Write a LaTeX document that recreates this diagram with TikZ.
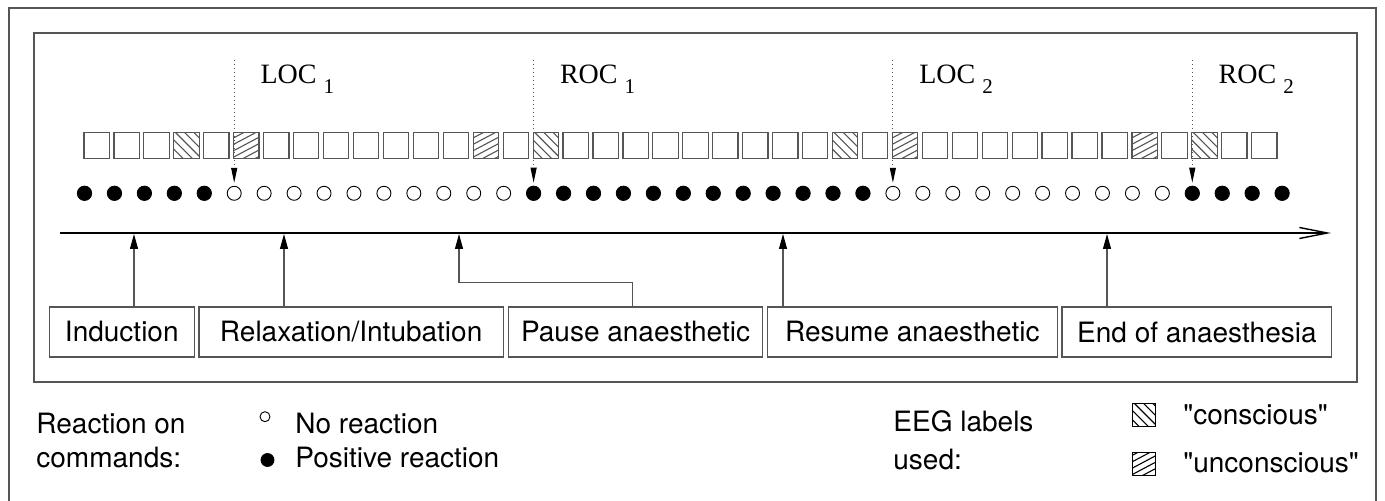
\documentclass[tikz,border=0pt]{standalone}
\usepackage{fontspec}
\setmainfont{Liberation Serif}
\setsansfont{TeX Gyre Heros}
\usetikzlibrary{arrows.meta}
\definecolor{edge}{HTML}{555555}

\begin{document}
\begin{tikzpicture}[x=0.5pt,y=-0.5pt,
  frame/.style={draw=edge, line width=0.6pt},
  slot/.style={draw=edge, line width=0.6pt, minimum width=12.65pt,
    minimum height=12.65pt, inner sep=0pt, outer sep=0pt},
  awake/.style={path picture={
    \foreach \k in {-3,...,3}
      \draw[line width=0.55pt]
        ([xshift=\k*4.6pt,yshift=1pt]path picture bounding box.north west)
        -- ++(16pt,-16pt);}},
  asleep/.style={path picture={
    \foreach \k in {-5,...,5}
      \draw[line width=0.55pt]
        ([xshift=-1pt,yshift=\k*3.2pt]path picture bounding box.south west)
        -- ++(16pt,8.5pt);}},
  dotpos/.style={circle, draw=black, fill=black, line width=0.4pt,
    minimum size=7.2pt, inner sep=0pt},
  dotneg/.style={circle, draw=black, fill=white, line width=0.45pt,
    minimum size=7pt, inner sep=0pt},
  marker/.style={draw=edge, line width=0.55pt, dash pattern=on 0.5pt off 1.5pt,
    -{Triangle[length=7.5pt,width=3pt,color=black]}, shorten >=1.5pt},
  timeline/.style={draw=black, line width=1pt,
    -{Straight Barb[length=14pt,width=5.5pt,line width=0.7pt]}},
  upline/.style={draw=edge, line width=0.6pt,
    -{Triangle[length=7.5pt,width=4pt,color=black]}},
  event/.style={draw=edge, line width=0.6pt, minimum height=25pt,
    inner sep=0pt, font=\sffamily\fontsize{14}{17}\selectfont},
  oc/.style={inner sep=0pt, font=\rmfamily\fontsize{14}{16}\selectfont},
  lab/.style={inner sep=0pt, anchor=base west,
    font=\sffamily\fontsize{14}{17}\selectfont},
  key/.style={slot, minimum size=11.5pt, line width=0.5pt, draw=black},
]
\useasboundingbox (0,0) rectangle (1385,501);

% outer frame and inner panel
\draw[frame] (9,501) -- (9,8) -- (1376,8) -- (1376,501);
\draw[frame] (34,33) rectangle (1357,382);

% EEG label squares
\foreach \i in {0,...,39}
  \node[slot] (s\i) at (96.65+29.94*\i,145.5) {};
\foreach \i in {3,15,25,37}
  \node[slot, awake] at (s\i) {};
\foreach \i in {5,13,27,35}
  \node[slot, asleep] at (s\i) {};

% responses to commands
\foreach \j in {0,...,40}{
  \pgfmathtruncatemacro\pos{(\j<5)||((\j>14)&&(\j<27))||(\j>36)}
  \ifnum\pos=1
    \node[dotpos] (c\j) at (84.5+29.94*\j,193.3) {};
  \else
    \node[dotneg] (c\j) at (84.5+29.94*\j,193.3) {};
  \fi
}

% loss / return of consciousness markers
\foreach \j/\lab/\n in {5/LOC/1, 15/ROC/1, 27/LOC/2, 37/ROC/2}{
  \pgfmathsetmacro\xx{84.5+29.94*\j}
  \coordinate (m\j) at (\xx,60);
  \draw[marker] (m\j) -- (c\j.north);
  \node[oc, anchor=base west] (l\j) at (\xx+26,83.3)
    {\lab\ {\fontsize{10.5}{10}\selectfont\raisebox{-5pt}{\n}}};
}

% time axis
\coordinate (ax0) at (60,233);
\coordinate (ax1) at (1331,233);
\draw[timeline] (ax0) -- (ax1);

% events
\node[event, minimum width=72.5pt]  (b1) at (121.8,332)  {Induction};
\node[event, minimum width=152.15pt] (b2) at (351.15,332) {Relaxation/Intubation};
\node[event, minimum width=127.2pt] (b3) at (635.5,332)  {Pause anaesthetic};
\node[event, minimum width=145pt]   (b4) at (912.3,332)  {Resume anaesthetic};
\node[event, minimum width=134.85pt] (b5) at (1196.85,332) {End of anaesthesia};

\coordinate (t1) at (134,234);
\coordinate (t2) at (284,234);
\coordinate (t3) at (459,234);
\coordinate (k3) at (632.7,282.3);
\coordinate (t4) at (783,234);
\coordinate (t5) at (1107,234);
\draw[upline] (t1 |- b1.north) -- (t1);
\draw[upline] (t2 |- b2.north) -- (t2);
\draw[upline] (k3 |- b3.north) -- (k3) -| (t3);
\draw[upline] (t4 |- b4.north) -- (t4);
\draw[upline] (t5 |- b5.north) -- (t5);

% legend: reactions
\node[lab] (r1) at (36,433.3) {Reaction on};
\node[lab] (r2) at (36,467.3) {commands:};
\node[dotneg, minimum size=5pt] (k1) at (265,416.7) {};
\node[lab] (r3) at (295,433.3) {No reaction};
\node[dotpos, minimum size=6.5pt] (k2) at (267.5,460) {};
\node[lab] (r4) at (295,467.3) {Positive reaction};

% legend: EEG labels
\node[lab] (e1) at (893,432) {EEG labels};
\node[lab] (e2) at (893,469) {used:};
\node[key, awake] (q1) at (1144,415) {};
\node[lab] (e3) at (1183,425) {\textquotedbl conscious\textquotedbl};
\node[key, asleep] (q2) at (1144,464) {};
\node[lab] (e4) at (1183,473) {\textquotedbl unconscious\textquotedbl};
\end{tikzpicture}
\end{document}
